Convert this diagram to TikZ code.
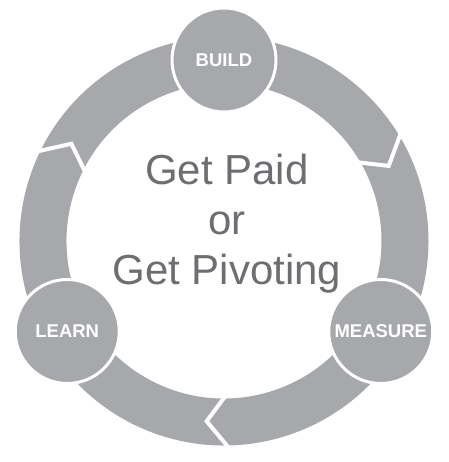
\documentclass[tikz,border=0pt]{standalone}
\usepackage{fontspec}
\setmainfont{Liberation Sans}
\usepackage{tikz}
\usetikzlibrary{backgrounds}

\definecolor{ringgray}{HTML}{A7A8AB}
\definecolor{textgray}{HTML}{6D6E71}

\begin{document}
\begin{tikzpicture}[x=1pt, y=1pt, thick,
	main node/.style={circle,draw=white,line width=3pt,fill=ringgray,minimum size=104pt,inner sep=0pt,
		text=white,font=\fontsize{18.5}{18.5}\selectfont\bfseries},
	ring/.style={draw=ringgray,line width=47pt},
	cut/.style={draw=white,line width=4pt}]
	\useasboundingbox (-224,-221) rectangle (224,241);
	
	\node[main node] (build) at (90:181) {BUILD};
	\node[main node] (measure) at (-30:181) {MEASURE};
	\node[main node] (learn) at (210:181) {LEARN};
	
	\node[text=textgray,font=\fontsize{42}{50}\selectfont,align=center] (title) at (3,17)
	{Get Paid\\or\\Get Pivoting};
	
	\begin{scope}[on background layer]
		\foreach \n/\s in {build/90, measure/-30, learn/210}
		\draw[ring] (\n.center) arc[start angle=\s, delta angle=-120, radius=181pt];
		\foreach \a in {32,155,272}
		\draw[cut] (\a:210) -- ({\a-7.5}:181) -- (\a:150);
	\end{scope}
\end{tikzpicture}
\end{document}
